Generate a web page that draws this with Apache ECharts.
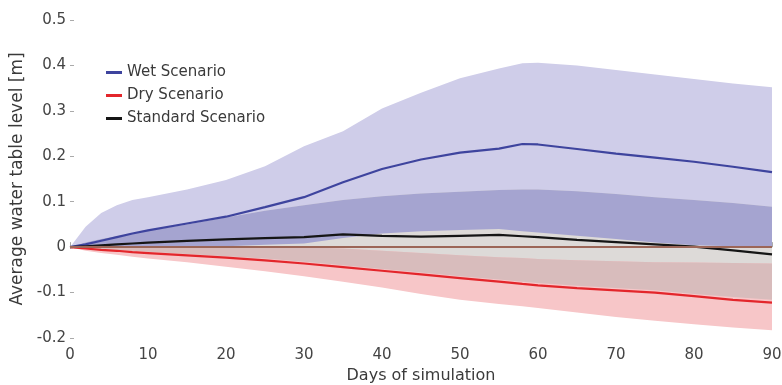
<!DOCTYPE html>
<html>
<head>
<meta charset="utf-8">
<script src="https://cdn.jsdelivr.net/npm/echarts@6/dist/echarts.min.js"></script>
<style>
  html, body { margin: 0; padding: 0; background: #ffffff; }
  #chart { width: 782px; height: 385px; }
</style>
</head>
<body>
<div id="chart"></div>
<script>
// Simulation days at which the ensemble statistics are sampled
const days = [0, 2, 4, 6, 8, 10, 15, 20, 25, 30, 35, 40, 45, 50, 55, 58, 60, 65, 70, 75, 80, 85, 90];

// Wet scenario: mean and ensemble range [m]
const wetMean = [0, 0.006, 0.014, 0.022, 0.030, 0.037, 0.052, 0.067, 0.088, 0.110, 0.143, 0.172, 0.193, 0.208, 0.217, 0.227, 0.226, 0.216, 0.206, 0.197, 0.188, 0.177, 0.165];
const wetHigh = [0, 0.045, 0.075, 0.092, 0.104, 0.110, 0.127, 0.148, 0.178, 0.222, 0.255, 0.305, 0.340, 0.372, 0.393, 0.405, 0.406, 0.400, 0.390, 0.380, 0.370, 0.360, 0.352];
const wetLow  = [0, 0, 0, 0, 0, 0, 0, 0.002, 0.005, 0.008, 0.020, 0.030, 0.035, 0.038, 0.040, 0.035, 0.032, 0.025, 0.018, 0.010, 0.004, 0.002, 0];

// Standard scenario: mean and ensemble range [m]
const stdMean = [0, 0.002, 0.004, 0.006, 0.008, 0.010, 0.014, 0.017, 0.020, 0.022, 0.028, 0.025, 0.023, 0.025, 0.027, 0.024, 0.022, 0.016, 0.011, 0.006, 0.001, -0.007, -0.016];
const stdHigh = [0, 0.010, 0.018, 0.024, 0.030, 0.036, 0.050, 0.065, 0.080, 0.092, 0.104, 0.112, 0.118, 0.122, 0.126, 0.127, 0.127, 0.123, 0.117, 0.110, 0.104, 0.097, 0.089];
const stdLow  = [0, -0.002, -0.004, -0.006, -0.008, -0.010, -0.015, -0.020, -0.025, -0.032, -0.040, -0.048, -0.056, -0.064, -0.071, -0.076, -0.079, -0.085, -0.090, -0.095, -0.103, -0.110, -0.116];

// Dry scenario: mean and ensemble range [m]
const dryMean = [0, -0.003, -0.006, -0.008, -0.011, -0.013, -0.018, -0.023, -0.029, -0.036, -0.044, -0.052, -0.060, -0.068, -0.076, -0.081, -0.084, -0.090, -0.095, -0.100, -0.108, -0.116, -0.122];
const dryHigh = [0, 0, 0, 0, 0, 0, 0, 0, 0, 0, -0.003, -0.008, -0.013, -0.018, -0.022, -0.024, -0.026, -0.029, -0.031, -0.033, -0.034, -0.035, -0.036];
const dryLow  = [0, -0.008, -0.013, -0.017, -0.021, -0.025, -0.033, -0.043, -0.053, -0.064, -0.076, -0.089, -0.103, -0.116, -0.125, -0.130, -0.134, -0.144, -0.154, -0.162, -0.170, -0.177, -0.183];

// Axis ticks
const xTicks = { min: 0, max: 90, step: 10 };
const yTicks = { min: -0.2, max: 0.5, step: 0.1 };

const FONT = '"DejaVu Sans", Verdana, sans-serif';

// Overlap of two ranges, used to shade where two scenario bands coincide
function overlap(lowA, highA, lowB, highB) {
  const lo = [], hi = [];
  for (let i = 0; i < days.length; i++) {
    const l = Math.max(lowA[i], lowB[i]);
    const h = Math.min(highA[i], highB[i]);
    lo.push(l);
    hi.push(Math.max(l, h));
  }
  return [lo, hi];
}

const pairs = (arr) => days.map((d, i) => [d, arr[i]]);

// A shaded band between two curves, drawn as one polygon through the axis scales
function band(id, lower, upper, color) {
  return {
    name: id, type: 'custom', silent: true, z: 2,
    data: days.map((d, i) => [d, lower[i], upper[i]]),
    encode: { x: 0, y: [1, 2] },
    renderItem: function (params, api) {
      if (params.dataIndex !== 0) return null;
      const pts = [];
      for (let i = 0; i < days.length; i++) pts.push(api.coord([days[i], upper[i]]));
      for (let i = days.length - 1; i >= 0; i--) pts.push(api.coord([days[i], lower[i]]));
      return {
        type: 'polygon',
        shape: { points: pts },
        style: { fill: color, stroke: null }
      };
    }
  };
}

const [wsLow, wsHigh] = overlap(wetLow, wetHigh, stdLow, stdHigh);
const [dsLow, dsHigh] = overlap(dryLow, dryHigh, stdLow, stdHigh);

const meanLine = (name, arr, color) => ({
  name: name, type: 'line', data: pairs(arr), symbol: 'none', z: 3,
  lineStyle: { color: color, width: 2.2 }, itemStyle: { color: color }
});

const chart = echarts.init(document.getElementById('chart'));
chart.setOption({
  animation: false,
  backgroundColor: '#ffffff',
  grid: { left: 70, right: 10, top: 20, bottom: 47, containLabel: false, outerBoundsMode: 'none' },
  legend: {
    z: 20,
    data: ['Wet Scenario', 'Dry Scenario', 'Standard Scenario'],
    orient: 'vertical', left: 101, top: 60,
    icon: 'rect', itemWidth: 16, itemHeight: 3, itemGap: 8,
    textStyle: { fontFamily: FONT, fontSize: 15, color: '#3a3a3a' }
  },
  xAxis: {
    type: 'value', min: xTicks.min, max: xTicks.max, interval: xTicks.step,
    name: 'Days of simulation', nameLocation: 'middle', nameGap: 30,
    nameTextStyle: { fontFamily: FONT, fontSize: 16, color: '#3a3a3a' },
    axisLine: { show: false },
    axisTick: { show: true, inside: true, length: 5, lineStyle: { color: '#aaa' } },
    axisLabel: { margin: 10, fontFamily: FONT, fontSize: 15, color: '#444' },
    splitLine: { show: false }
  },
  yAxis: {
    type: 'value', min: yTicks.min, max: yTicks.max, interval: yTicks.step,
    name: 'Average water table level [m]', nameLocation: 'middle', nameGap: 37,
    nameTextStyle: { fontFamily: FONT, fontSize: 17, color: '#3a3a3a' },
    axisLine: { show: false },
    axisTick: { show: true, inside: true, length: 4, lineStyle: { color: '#aaa' } },
    axisLabel: { margin: 4, fontFamily: FONT, fontSize: 15, color: '#444',
      formatter: (v) => String(parseFloat(v.toFixed(1))) },
    splitLine: { show: false }
  },
  series: [
    band('wet', wetLow, wetHigh, '#cfcde9'),
    band('std', stdLow, stdHigh, '#dddad8'),
    band('dry', dryLow, dryHigh, '#f7c6c8'),
    band('wetstd', wsLow, wsHigh, '#a5a4d0'),
    band('drystd', dsLow, dsHigh, '#d8bcbc'),
    Object.assign(meanLine('Wet Scenario', wetMean, '#3e449e'), {
      markLine: {
        silent: true, symbol: 'none', label: { show: false },
        lineStyle: { color: '#9c6658', width: 2, type: 'solid' },
        data: [{ yAxis: 0 }]
      }
    }),
    meanLine('Dry Scenario', dryMean, '#e3262b'),
    meanLine('Standard Scenario', stdMean, '#151515')
  ]
});
</script>
</body>
</html>
